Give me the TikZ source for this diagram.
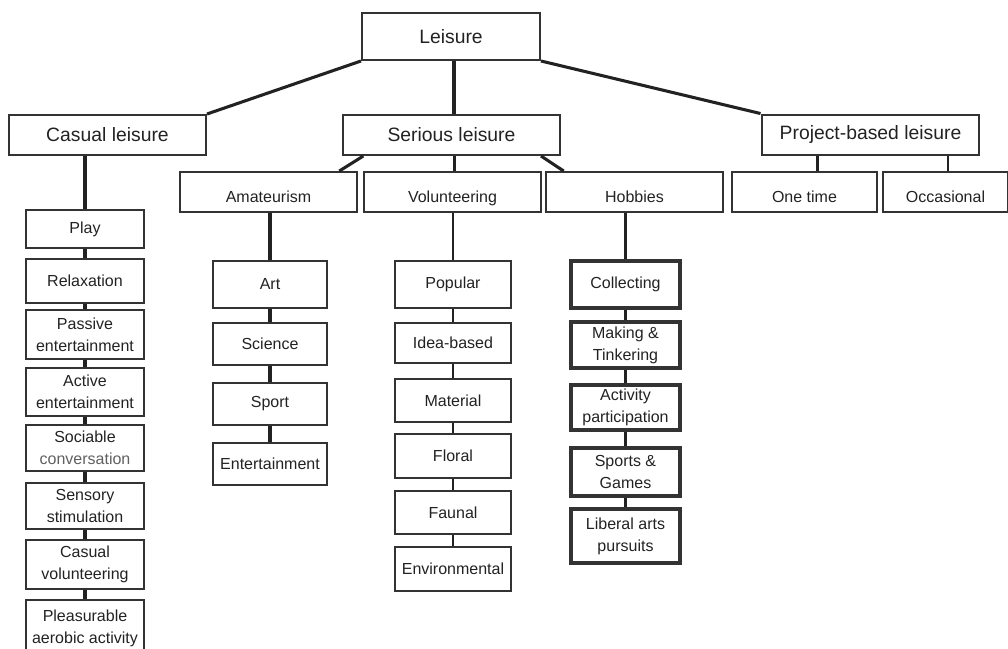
\documentclass[tikz,border=0pt]{standalone}
\usepackage{fontspec}
\setmainfont{Liberation Sans}
\usepackage{xcolor}
\usetikzlibrary{positioning}
\definecolor{ink}{HTML}{222222}
\definecolor{edge}{HTML}{333333}
\definecolor{faint}{HTML}{606060}
\tikzstyle{main} = [rectangle, draw=edge, line width=1.5pt, inner sep=0pt, text=ink, font=\fontsize{14.5}{17}\selectfont, minimum height=30pt]
\tikzstyle{sub} = [rectangle, draw=edge, line width=1.4pt, inner sep=0pt, text=ink, font=\fontsize{12}{16.5}\selectfont, minimum height=30pt, text height=16pt, text depth=0pt]
\tikzstyle{item} = [rectangle, draw=edge, inner sep=0pt, text=ink, align=center, font=\fontsize{12}{16.5}\selectfont]
\tikzstyle{casualitem} = [item, line width=2pt, minimum width=88.5pt]
\tikzstyle{amatitem} = [item, line width=1.6pt, minimum width=85.5pt]
\tikzstyle{volunitem} = [item, line width=1.3pt, minimum width=87pt]
\tikzstyle{hobbyitem} = [item, line width=2.4pt, minimum width=81.75pt]
\tikzstyle{link} = [draw=ink, line width=2.3pt]
\tikzstyle{thinlink} = [draw=ink, line width=1.2pt]

\begin{document}
\begin{tikzpicture}[x=0.75pt, y=-0.75pt]
        \useasboundingbox (0,0) rectangle (1008,649);
        % Place nodes
        \node at (451, 36.5) [main, minimum width=133.5pt, minimum height=35.25pt] (leisure) {Leisure};
        \node at (107.5, 135) [main, minimum width=147.75pt] (casual) {Casual leisure};
        \node at (451.5, 135) [main, minimum width=162.75pt] (serious) {Serious leisure};
        \node at (870.5, 135) [main, minimum width=162.75pt, line width=2.2pt] (project) {Project-based leisure};

        \node at (268.5, 192) [sub, minimum width=132.75pt] (amat) {Amateurism};
        \node at (452.5, 192) [sub, minimum width=132.75pt] (volun) {Volunteering};
        \node at (634.5, 192) [sub, minimum width=132.75pt] (hobby) {Hobbies};
        \node at (804.5, 192) [sub, minimum width=108.75pt, line width=1.9pt] (once) {One time};
        \node at (945.5, 192) [sub, minimum width=93.75pt] (occas) {Occasional};

        \node at (85, 229) [casualitem, minimum height=28.5pt] (play) {Play};
        \node at (85, 281) [casualitem, minimum height=33pt] (relax) {Relaxation};
        \node at (85, 334.5) [casualitem, minimum height=36.75pt] (passive) {Passive\\entertainment};
        \node at (85, 392) [casualitem, minimum height=36pt] (active) {Active\\entertainment};
        \node at (85, 448) [casualitem, minimum height=34.5pt] (social) {Sociable\\\textcolor{faint}{conversation}};
        \node at (85, 506) [casualitem, minimum height=34.5pt] (sensory) {Sensory\\stimulation};
        \node at (85, 564.5) [casualitem, minimum height=36.75pt] (casvol) {Casual\\volunteering};
        \node at (85, 628) [casualitem, minimum height=42pt] (aerobic) {Pleasurable\\aerobic activity};

        \node at (270, 284.5) [amatitem, minimum height=35.25pt] (art) {Art};
        \node at (270, 344) [amatitem, minimum height=31.5pt] (science) {Science};
        \node at (270, 404) [amatitem, minimum height=31.5pt] (sport) {Sport};
        \node at (270, 464) [amatitem, minimum height=31.5pt] (entert) {Entertainment};

        \node at (453, 284.5) [volunitem, minimum height=35.25pt] (popular) {Popular};
        \node at (453, 343) [volunitem, minimum height=30pt] (idea) {Idea-based};
        \node at (453, 400.5) [volunitem, minimum height=32.25pt] (material) {Material};
        \node at (453, 456) [volunitem, minimum height=33pt] (floral) {Floral};
        \node at (453, 512.5) [volunitem, minimum height=32.25pt] (faunal) {Faunal};
        \node at (453, 569) [volunitem, minimum height=33pt] (environ) {Environmental};

        \node at (625.5, 284.5) [hobbyitem, minimum height=35.25pt] (collect) {Collecting};
        \node at (625.5, 345) [hobbyitem, minimum height=34.5pt] (making) {Making \&\\Tinkering};
        \node at (625.5, 407.5) [hobbyitem, minimum height=33.75pt] (activity) {Activity\\participation};
        \node at (625.5, 472) [hobbyitem, minimum height=36pt] (games) {Sports \&\\Games};
        \node at (625.5, 536) [hobbyitem, minimum height=40.5pt] (liberal) {Liberal arts\\pursuits};

        % Draw edges
        \path [link] (leisure.south west) -- (casual.north east);
        \path [link] ([xshift=2.25pt]leisure.south) -- ([xshift=2.25pt]leisure.south |- serious.north);
        \path [link] (leisure.south east) -- (project.north west);
        \path [link] ([xshift=16pt]serious.south west) -- ([xshift=-14pt]amat.north east);
        \path [link] ([xshift=2pt]serious.south) -- ([xshift=2pt]serious.south |- volun.north);
        \path [link] ([xshift=-15pt]serious.south east) -- ([xshift=14pt]hobby.north west);
        \path [link] ([xshift=10pt]once.north) -- ([xshift=10pt]once.north |- project.south);
        \path [thinlink] ([xshift=2pt]occas.north) -- ([xshift=2pt]occas.north |- project.south);

        \path [link] (play.north) -- (play.north |- casual.south);
        \path [link] (art.north) -- (art.north |- amat.south);
        \path [thinlink] (popular.north) -- (popular.north |- volun.south);
        \path [link] (collect.north) -- (collect.north |- hobby.south);

        \foreach \a/\b in {play/relax, relax/passive, passive/active, active/social, social/sensory, sensory/casvol, casvol/aerobic, art/science, science/sport, sport/entert, collect/making, making/activity, activity/games, games/liberal}
            \path [link] (\a) -- (\b);
        \foreach \a/\b in {popular/idea, idea/material, material/floral, floral/faunal, faunal/environ}
            \path [thinlink] (\a) -- (\b);
    \end{tikzpicture}
\end{document}
